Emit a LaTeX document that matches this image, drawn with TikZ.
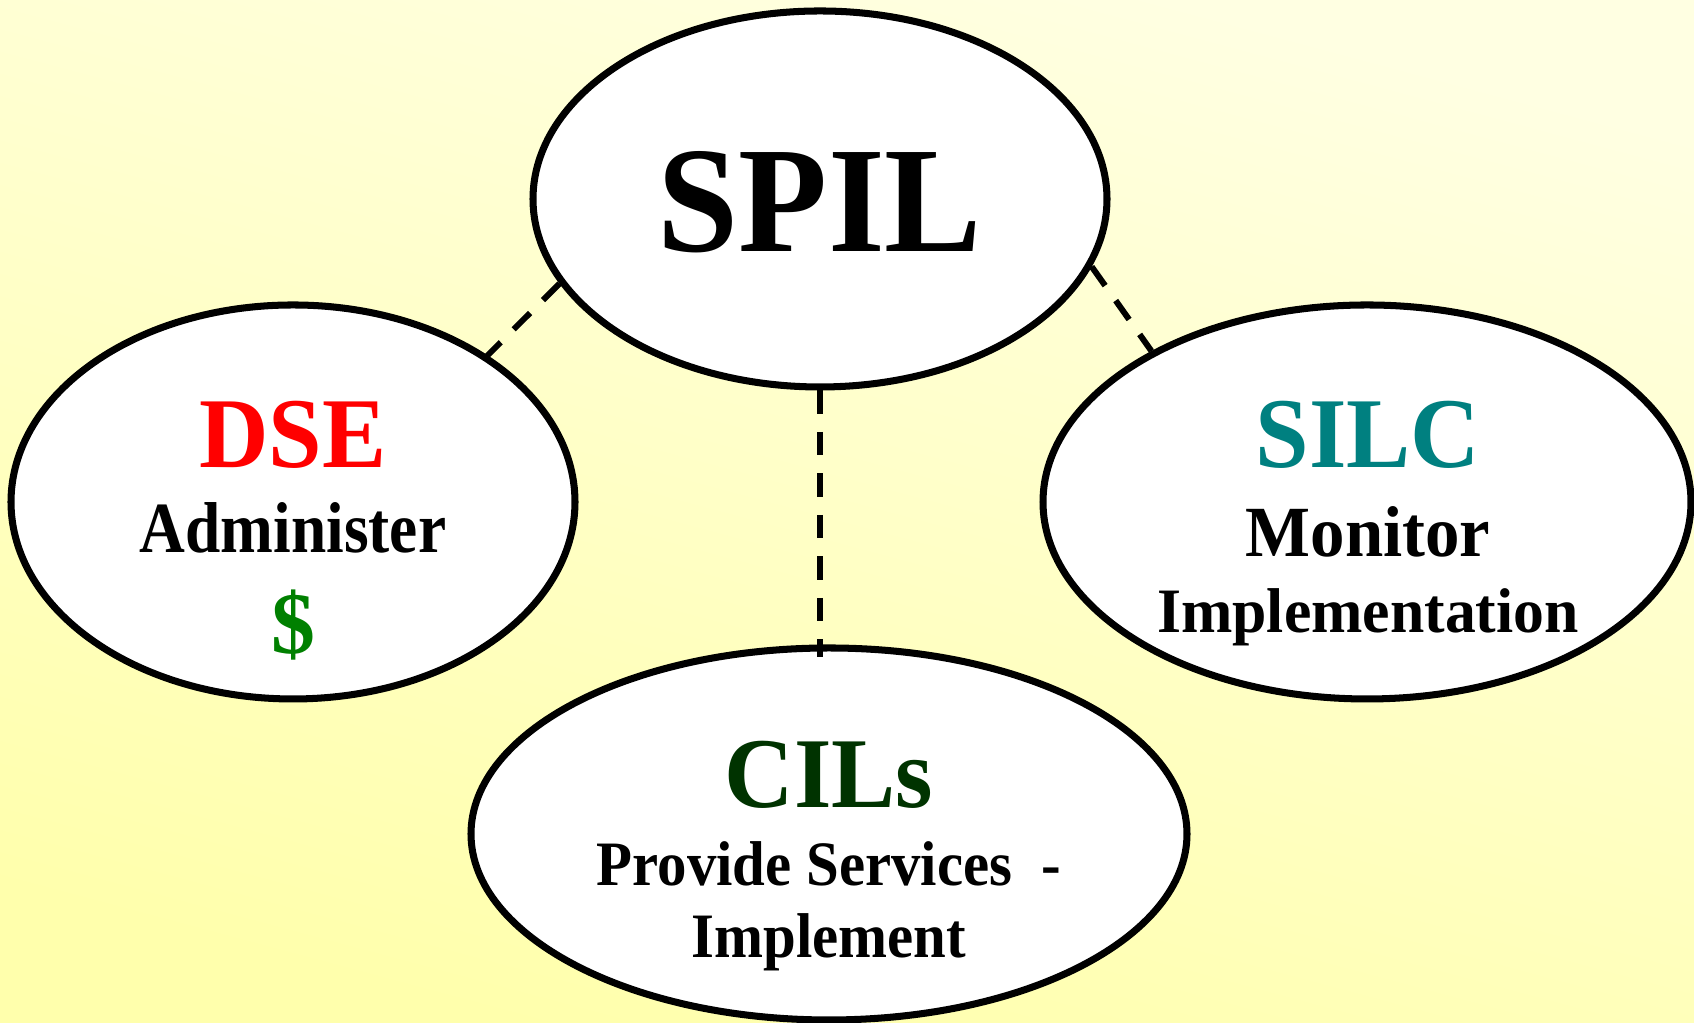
\documentclass[tikz,border=0pt]{standalone}
\usepackage{xcolor}
\usepackage{fontspec}
\setmainfont{Liberation Serif}
\usetikzlibrary{shapes,positioning}

\definecolor{bgtop}{RGB}{255,255,226}
\definecolor{bgbot}{RGB}{255,255,172}
\definecolor{dsered}{RGB}{255,0,0}
\definecolor{dollar}{RGB}{0,128,0}
\definecolor{silcteal}{RGB}{0,128,128}
\definecolor{cilgreen}{RGB}{0,51,0}

\newcommand{\squeeze}[1]{\addfontfeature{FakeStretch=#1}}

\tikzset{
  oval/.style={ellipse, draw=black, line width=2pt, fill=white, inner sep=0pt},
  link/.style={line width=1.7pt, dash pattern=on 6.6pt off 5.2pt},
  title/.style={anchor=base, font=\bfseries\fontsize{28.5}{30}\selectfont\squeeze{0.96}},
  sub/.style={anchor=base, font=\bfseries\fontsize{20.5}{22}\selectfont\squeeze{#1}},
  sub/.default=1,
  small/.style={anchor=base, font=\bfseries\fontsize{18}{20}\selectfont\squeeze{#1}},
  small/.default=1
}

\begin{document}
\begin{tikzpicture}

\shade[top color=bgtop, bottom color=bgbot, shading angle=-15] (0,0) rectangle (16.94,10.23);
\useasboundingbox (0,0) rectangle (16.94,10.23);

\node(spil)[oval, minimum width=5.74cm, minimum height=3.76cm] at (8.20,8.24){};
\node(dse)[oval, minimum width=5.64cm, minimum height=3.94cm] at (2.93,5.21){};
\node(silc)[oval, minimum width=6.48cm, minimum height=3.94cm] at (13.67,5.21){};
\node(cils)[oval, minimum width=7.16cm, minimum height=3.72cm] at (8.29,1.89){};

% texts
\node(spiltxt)[anchor=base, font=\bfseries\fontsize{43}{46}\selectfont\squeeze{0.965}] at ([yshift=-0.53cm]spil.center){SPIL};

\node(dsetxt)[title, text=dsered] at ([yshift=0.34cm]dse.center){DSE};
\node(admin)[sub=0.88] at ([yshift=-0.51cm]dse.center){Administer};
\node(money)[anchor=base, font=\bfseries\fontsize{25}{27}\selectfont, text=dollar] at ([yshift=-1.52cm]dse.center){\$};

\node(silctxt)[title, text=silcteal] at ([xshift=0.01cm, yshift=0.34cm]silc.center){SILC};
\node(monitor)[sub=0.955] at ([xshift=0.01cm, yshift=-0.55cm]silc.center){Monitor};
\node(implem)[small=0.975] at ([xshift=0.01cm, yshift=-1.31cm]silc.center){Implementation};

\node(cilstxt)[title, text=cilgreen] at ([yshift=0.26cm]cils.center){CILs};
\node(provide)[small=0.93] at ([yshift=-0.52cm]cils.center){Provide Services~~-};
\node(impl)[small=0.93] at ([yshift=-1.24cm]cils.center){Implement};

% connectors
\draw[link, shorten >=-0.08cm](spil.198.6)--(dse.37);
\draw[link](spil.-14.9)--(silc.145.3);
\draw[link, shorten >=-0.13cm](spil.south)--(spil.south |- cils.north);

\end{tikzpicture}
\end{document}
